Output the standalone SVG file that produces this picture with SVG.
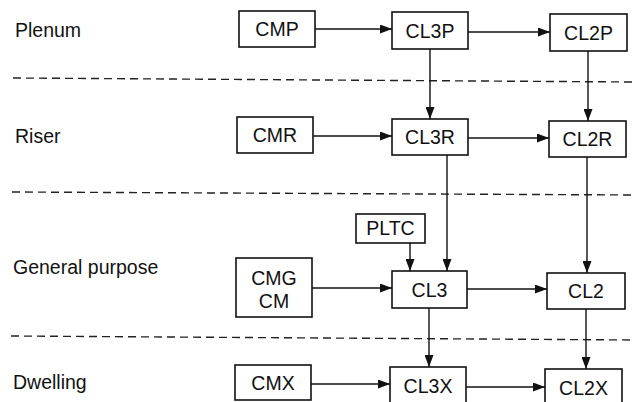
<svg xmlns="http://www.w3.org/2000/svg" width="634" height="402" viewBox="0 0 634 402">
<defs>
<marker id="ah" markerWidth="12" markerHeight="9" refX="12" refY="4.5" orient="auto" markerUnits="userSpaceOnUse">
<path d="M0,0 L12,4.5 L0,9 Z" fill="#111"/>
</marker>
<style>
.box{fill:#fff;stroke:#111;stroke-width:1.6}
.t{font-family:"Liberation Sans",Arial,sans-serif;font-size:19.5px;fill:#111;text-anchor:middle}
.lbl{font-family:"Liberation Sans",Arial,sans-serif;font-size:19.5px;fill:#111}
.c{stroke:#111;stroke-width:1.4;fill:none;marker-end:url(#ah)}
.d{stroke:#222;stroke-width:1.4;stroke-dasharray:8 5;fill:none}
</style>
</defs>
<rect width="634" height="402" fill="#fff"/>
<g id="tiers">
<text class="lbl" x="15" y="37">Plenum</text>
<text class="lbl" x="15" y="143">Riser</text>
<text class="lbl" x="13" y="274">General purpose</text>
<text class="lbl" x="13" y="389">Dwelling</text>
<path class="d" d="M13,78 L634,82"/>
<path class="d" d="M12,192 L634,195"/>
<path class="d" d="M11,336 L634,340"/>
</g>
<g id="connectors">
<path class="c" d="M315,29 L392,29"/>
<path class="c" d="M468,32 L550,32"/>
<path class="c" d="M430,49 L430,119"/>
<path class="c" d="M588,51 L588,121"/>
<path class="c" d="M313,136 L392,136"/>
<path class="c" d="M468,138 L549,138"/>
<path class="c" d="M447,155 L447,271"/>
<path class="c" d="M587,157 L587,273"/>
<path class="c" d="M410,243 L410,271"/>
<path class="c" d="M312,288 L392,288"/>
<path class="c" d="M467,289 L547,289"/>
<path class="c" d="M429,308 L429,367"/>
<path class="c" d="M586,309 L586,369"/>
<path class="c" d="M311,384 L390,384"/>
<path class="c" d="M466,387 L545,387"/>
</g>
<g id="CMP"><rect class="box" x="239" y="11" width="76" height="36"/><text class="t" x="277" y="36">CMP</text></g>
<g id="CL3P"><rect class="box" x="392" y="12" width="76" height="37"/><text class="t" x="430" y="38">CL3P</text></g>
<g id="CL2P"><rect class="box" x="550" y="14" width="77" height="37"/><text class="t" x="588.5" y="40">CL2P</text></g>
<g id="CMR"><rect class="box" x="237" y="117" width="76" height="36"/><text class="t" x="275" y="142">CMR</text></g>
<g id="CL3R"><rect class="box" x="392" y="119" width="76" height="36"/><text class="t" x="430" y="144">CL3R</text></g>
<g id="CL2R"><rect class="box" x="549" y="121" width="77" height="36"/><text class="t" x="587.5" y="146">CL2R</text></g>
<g id="PLTC"><rect class="box" x="356" y="214" width="69" height="29"/><text class="t" x="390.5" y="235">PLTC</text></g>
<g id="CMG"><rect class="box" x="236" y="258" width="76" height="59"/><text class="t" x="274" y="285">CMG</text><text class="t" x="274" y="308">CM</text></g>
<g id="CL3"><rect class="box" x="392" y="271" width="75" height="37"/><text class="t" x="429.5" y="297">CL3</text></g>
<g id="CL2"><rect class="box" x="547" y="273" width="78" height="36"/><text class="t" x="586" y="298">CL2</text></g>
<g id="CMX"><rect class="box" x="235" y="365" width="76" height="35"/><text class="t" x="273" y="390">CMX</text></g>
<g id="CL3X"><rect class="box" x="390" y="367" width="76" height="40"/><text class="t" x="428" y="393">CL3X</text></g>
<g id="CL2X"><rect class="box" x="545" y="369" width="77" height="40"/><text class="t" x="583.5" y="395">CL2X</text></g>
</svg>
